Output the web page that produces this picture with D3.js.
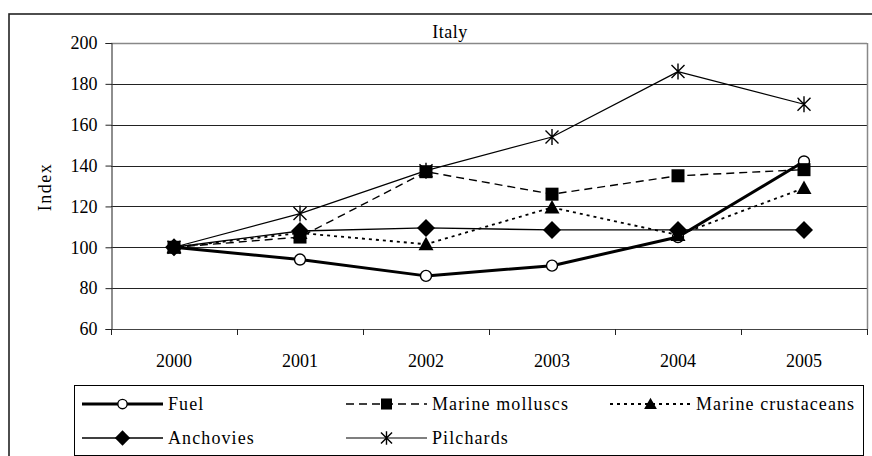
<!DOCTYPE html>
<html>
<head>
<meta charset="utf-8">
<script src="https://cdn.jsdelivr.net/npm/d3@7"></script>
<style>
  html, body { margin: 0; padding: 0; background: #fff; }
  svg { display: block; font-family: "Liberation Serif", "Times New Roman", Times, "DejaVu Serif", serif; }
  svg text { font-family: "Liberation Serif", "Times New Roman", Times, "DejaVu Serif", serif; fill: #000; }
</style>
</head>
<body>
<svg id="chart" width="872" height="456"></svg>
<script>
// Price indices (2000 = 100), Italy
const years = ["2000", "2001", "2002", "2003", "2004", "2005"];
const fuel = [100, 94, 86, 91, 105, 142];
const marineMolluscs = [100, 105, 137, 126, 135, 138];
const marineCrustaceans = [100, 107, 101.5, 119.5, 106, 129];
const anchovies = [100, 108, 109.5, 108.5, 108.5, 108.5];
const pilchards = [100, 116.5, 137.5, 154, 186, 170];
const yTicks = [60, 80, 100, 120, 140, 160, 180, 200];

const series = [
  { name: "Fuel", values: fuel, width: 3, dash: null, marker: "circle" },
  { name: "Marine molluscs", values: marineMolluscs, width: 1.4, dash: "8,5", marker: "square" },
  { name: "Marine crustaceans", values: marineCrustaceans, width: 1.8, dash: "3,4", marker: "triangle" },
  { name: "Anchovies", values: anchovies, width: 1.4, dash: null, marker: "diamond" },
  { name: "Pilchards", values: pilchards, width: 1.2, dash: null, marker: "star" }
];

const FONT = "Liberation Serif, Times New Roman, Times, DejaVu Serif, serif";
const svg = d3.select("#chart");
const plot = { left: 111, right: 867, top: 43, bottom: 329 };

const x = d3.scaleBand().domain(years).range([plot.left, plot.right]).padding(0);
const y = d3.scaleLinear().domain([60, 200]).range([plot.bottom, plot.top]);

// Outer frame (extends past the canvas on the right and bottom)
svg.append("rect")
  .attr("x", 9).attr("y", 14).attr("width", 900).attr("height", 500)
  .attr("fill", "none").attr("stroke", "#222").attr("stroke-width", 1.6);

// Horizontal gridlines
svg.append("g").selectAll("line")
  .data(yTicks.filter(t => t > 60 && t < 200))
  .join("line")
  .attr("x1", plot.left).attr("x2", plot.right)
  .attr("y1", d => Math.round(y(d)) + 0.5).attr("y2", d => Math.round(y(d)) + 0.5)
  .attr("stroke", "#222").attr("stroke-width", 1);

// Plot area border: grey top/right, dark left/bottom axes
svg.append("line")
  .attr("x1", plot.left).attr("x2", plot.right)
  .attr("y1", plot.top + 0.5).attr("y2", plot.top + 0.5)
  .attr("stroke", "#888").attr("stroke-width", 1.5);
svg.append("line")
  .attr("x1", plot.right + 0.5).attr("x2", plot.right + 0.5)
  .attr("y1", plot.top).attr("y2", plot.bottom)
  .attr("stroke", "#888").attr("stroke-width", 1.5);

// Y axis
const yAxis = d3.axisLeft(y).tickValues(yTicks).tickSize(6).tickPadding(8);
const gy = svg.append("g").attr("transform", `translate(${plot.left + 0.5},0)`).call(yAxis)
  .attr("font-family", FONT).attr("font-size", 18);
gy.select(".domain").attr("stroke", "#444").attr("stroke-width", 1.2);
gy.selectAll(".tick line").attr("stroke", "#222");
gy.selectAll(".tick text").attr("fill", "#000");

// X axis: tick marks on category boundaries, labels centred in each band
const boundaries = years.map(yr => x(yr)).concat([x(years[years.length - 1]) + x.bandwidth()]);
svg.append("line")
  .attr("x1", plot.left).attr("x2", plot.right)
  .attr("y1", plot.bottom + 0.5).attr("y2", plot.bottom + 0.5)
  .attr("stroke", "#444").attr("stroke-width", 1.2);
svg.append("g").selectAll("line")
  .data(boundaries)
  .join("line")
  .attr("x1", d => Math.round(d) + 0.5).attr("x2", d => Math.round(d) + 0.5)
  .attr("y1", plot.bottom).attr("y2", plot.bottom + 6)
  .attr("stroke", "#222");
const xAxis = d3.axisBottom(x).tickSize(0).tickPadding(0);
const gx = svg.append("g").attr("transform", `translate(0,${plot.bottom})`).call(xAxis)
  .attr("font-family", FONT).attr("font-size", 18);
gx.select(".domain").remove();
gx.selectAll(".tick text").attr("fill", "#000").attr("dy", null).attr("y", 38);

// Axis title and chart title
svg.append("text")
  .attr("transform", `translate(51,187) rotate(-90)`)
  .attr("text-anchor", "middle")
  .attr("font-size", 18).attr("letter-spacing", 1.5)
  .text("Index");
svg.append("text")
  .attr("x", 450).attr("y", 38)
  .attr("text-anchor", "middle")
  .attr("font-size", 18).attr("letter-spacing", 0.5)
  .text("Italy");

// Marker shapes
function markerPath(kind, s) {
  const p = d3.path();
  if (kind === "circle") {
    p.arc(0, 0, 5.5 * s, 0, 2 * Math.PI);
  } else if (kind === "square") {
    const h = 6.5 * s;
    p.rect(-h, -h, 2 * h, 2 * h);
  } else if (kind === "triangle") {
    const h = 7.5 * s;
    p.moveTo(0, -h); p.lineTo(h, h * 0.8); p.lineTo(-h, h * 0.8); p.closePath();
  } else if (kind === "diamond") {
    const h = 9 * s;
    p.moveTo(0, -h); p.lineTo(h, 0); p.lineTo(0, h); p.lineTo(-h, 0); p.closePath();
  } else if (kind === "star") {
    const h = 8 * s, dx = 6.5 * s, dy = 6.5 * s;
    p.moveTo(0, -h); p.lineTo(0, h);
    p.moveTo(-dx, -dy); p.lineTo(dx, dy);
    p.moveTo(dx, -dy); p.lineTo(-dx, dy);
  }
  return p.toString();
}
function styleMarker(sel, kind) {
  if (kind === "circle") sel.attr("fill", "#fff").attr("stroke", "#000").attr("stroke-width", 1.4);
  else if (kind === "star") sel.attr("fill", "none").attr("stroke", "#000").attr("stroke-width", 1.4);
  else sel.attr("fill", "#000").attr("stroke", "none");
}

const line = d3.line()
  .x((d, i) => x(years[i]) + x.bandwidth() / 2)
  .y(d => y(d));

// Series lines and markers
series.forEach(s => {
  const g = svg.append("g");
  g.append("path")
    .attr("d", line(s.values))
    .attr("fill", "none").attr("stroke", "#000")
    .attr("stroke-width", s.width)
    .attr("stroke-dasharray", s.dash)
    .attr("stroke-linejoin", "round");
  g.selectAll("path.m")
    .data(s.values)
    .join("path")
    .attr("class", "m")
    .attr("transform", (d, i) => `translate(${x(years[i]) + x.bandwidth() / 2},${y(d)})`)
    .attr("d", markerPath(s.marker, 1))
    .call(sel => styleMarker(sel, s.marker));
});

// Legend
const legend = svg.append("g");
legend.append("rect")
  .attr("x", 74.5).attr("y", 385.5).attr("width", 789).attr("height", 70)
  .attr("fill", "#fff").attr("stroke", "#000").attr("stroke-width", 1);
const colX = [82, 346, 610];
const rowY = [404, 438];
series.forEach((s, i) => {
  const cx = colX[i % 3], cy = rowY[Math.floor(i / 3)];
  const g = legend.append("g").attr("transform", `translate(${cx},${cy})`);
  g.append("line")
    .attr("x1", 0).attr("x2", 81).attr("y1", 0).attr("y2", 0)
    .attr("stroke", "#000").attr("stroke-width", s.width)
    .attr("stroke-dasharray", s.dash);
  g.append("path")
    .attr("transform", "translate(40.5,0)")
    .attr("d", markerPath(s.marker, 0.85))
    .call(sel => styleMarker(sel, s.marker));
  g.append("text")
    .attr("x", 86).attr("y", 0).attr("dy", "0.35em")
    .attr("font-size", 18).attr("letter-spacing", 1.1)
    .text(s.name);
});
</script>
</body>
</html>
